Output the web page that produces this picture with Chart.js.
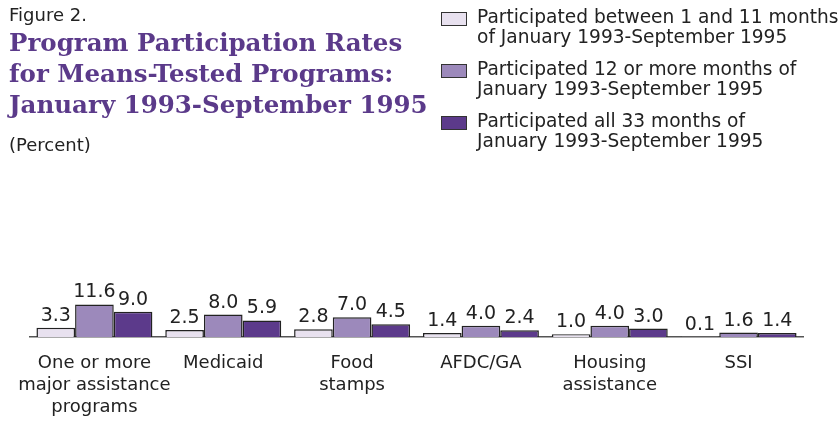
<!DOCTYPE html>
<html>
<head>
<meta charset="utf-8">
<script src="https://cdn.jsdelivr.net/npm/chart.js@4/dist/chart.umd.min.js"></script>
<style>
    body { margin: 0; background: #fff; }
    #wrap { position: relative; width: 838px; height: 421px; font-family: 'DejaVu Sans', sans-serif; color: #222; }
    #chart { position: absolute; left: 0; top: 0; }
    .fig { position: absolute; left: 9px; top: 4px; font-size: 18px; }
    .title { position: absolute; left: 9px; top: 27px; font-family: 'DejaVu Serif', serif; font-weight: bold; font-size: 24.5px; line-height: 31px; color: #5b3a8a; white-space: nowrap; }
    .unit { position: absolute; left: 9px; top: 134px; font-size: 18px; }
    #legend { position: absolute; left: 441px; top: 7px; }
    .item { position: relative; padding-left: 36px; font-size: 18.6px; line-height: 20px; margin-bottom: 12px; white-space: nowrap; }
    .box { position: absolute; left: 0; top: 5px; width: 24px; height: 12px; border: 1px solid #333; }
</style>
</head>
<body>
<div id="wrap">
    <canvas id="chart" width="838" height="421"></canvas>
    <div class="fig">Figure 2.</div>
    <div class="title">Program Participation Rates<br>for Means-Tested Programs:<br>January 1993-September 1995</div>
    <div class="unit">(Percent)</div>
    <div id="legend"></div>
</div>
<script>
// Categories (multi-line tick labels)
const categories = [
    ['One or more', 'major assistance', 'programs'],
    ['Medicaid'],
    ['Food', 'stamps'],
    ['AFDC/GA'],
    ['Housing', 'assistance'],
    ['SSI']
];

// Series values (percent)
const between1and11 = [3.3, 2.5, 2.8, 1.4, 1.0, 0.1];
const twelveOrMore = [11.6, 8.0, 7.0, 4.0, 4.0, 1.6];
const all33 = [9.0, 5.9, 4.5, 2.4, 3.0, 1.4];

const seriesNames = [
    ['Participated between 1 and 11 months', 'of January 1993-September 1995'],
    ['Participated 12 or more months of', 'January 1993-September 1995'],
    ['Participated all 33 months of', 'January 1993-September 1995']
];
const seriesColors = ['#e8e1ef', '#9c89bb', '#5c3a8b'];

// Draw value labels above each bar
const valueLabels = {
    id: 'valueLabels',
    afterDatasetsDraw(chart) {
        const ctx = chart.ctx;
        ctx.save();
        ctx.font = '19px "DejaVu Sans"';
        ctx.fillStyle = '#222';
        ctx.textAlign = 'center';
        ctx.textBaseline = 'alphabetic';
        chart.data.datasets.forEach((ds, i) => {
            chart.getDatasetMeta(i).data.forEach((bar, j) => {
                ctx.fillText(ds.data[j].toFixed(1), bar.x, bar.y - 7);
            });
        });
        ctx.restore();
    }
};

const datasets = [between1and11, twelveOrMore, all33].map((values, i) => ({
    label: seriesNames[i].join(' '),
    data: values,
    backgroundColor: seriesColors[i],
    borderColor: '#222',
    borderWidth: 1.5,
    categoryPercentage: 0.9,
    barPercentage: 1.0
}));

new Chart(document.getElementById('chart'), {
    type: 'bar',
    data: { labels: categories, datasets: datasets },
    options: {
        responsive: false,
        animation: false,
        layout: { padding: { left: 30, right: 35, top: 160, bottom: 0 } },
        plugins: { legend: { display: false }, tooltip: { enabled: false } },
        scales: {
            x: {
                grid: { display: false, drawTicks: false },
                border: { display: true, color: '#555', width: 1.5 },
                ticks: { color: '#222', font: { family: 'DejaVu Sans', size: 18, lineHeight: 1.22 }, padding: 15, maxRotation: 0, autoSkip: false },
                afterFit(scale) { scale.height = 84; }
            },
            y: { display: false, min: 0, max: 63 }
        }
    },
    plugins: [valueLabels]
});

// Build legend from series arrays
const legend = document.getElementById('legend');
seriesNames.forEach((lines, i) => {
    const item = document.createElement('div');
    item.className = 'item';
    item.innerHTML = `<span class="box" style="background:${seriesColors[i]}"></span>${lines.join('<br>')}`;
    legend.appendChild(item);
});
</script>
</body>
</html>
